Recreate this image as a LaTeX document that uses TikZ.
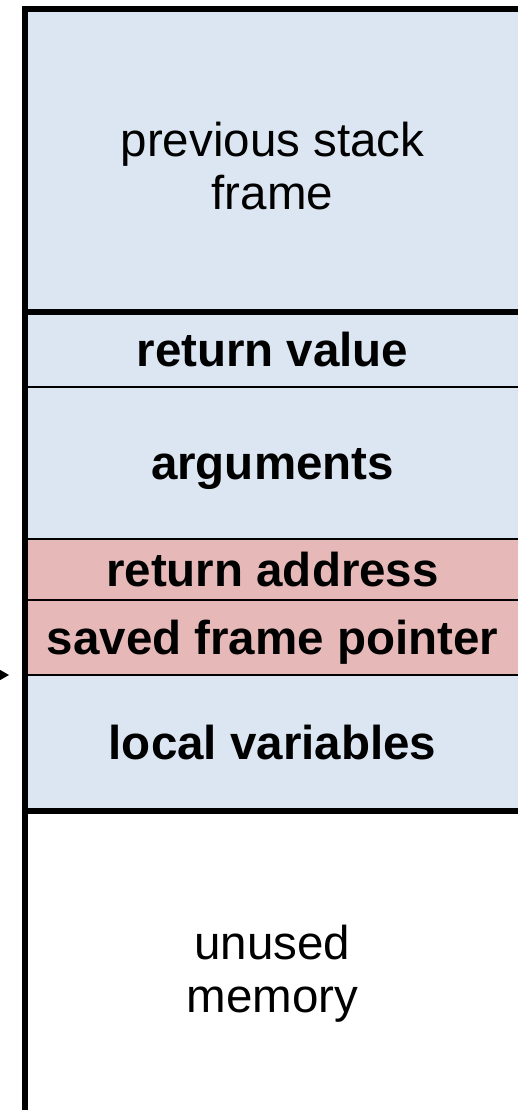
\documentclass[tikz,border=0pt]{standalone}
\usepackage{fontspec}
\setmainfont{Liberation Sans}
\usetikzlibrary{positioning,arrows.meta}
\definecolor{stackblue}{HTML}{DCE6F2}
\definecolor{stackred}{HTML}{E6B9B8}
\tikzset{
  slot/.style={rectangle, inner sep=0pt, outer sep=0pt, minimum width=495pt, align=center,
    font=\fontsize{47.5}{53}\selectfont},
  bold slot/.style={slot, text height=36pt, text depth=3pt,
    font=\fontsize{47.5}{53}\selectfont\bfseries},
  wall/.style={line width=6pt},
  sep/.style={line width=1.5pt},
  ptr/.style={line width=1.5pt, -{Triangle[length=10pt,width=11pt]}}
}
\begin{document}
\begin{tikzpicture}[x=1pt,y=-1pt]
\useasboundingbox (0,0) rectangle (518,1110);

% stack slots
\node[slot, fill=stackblue, minimum height=303pt, anchor=north west] (prev) at (25,9) {\rule{0pt}{45pt}previous stack\\frame};
\node[bold slot, fill=stackblue, minimum height=75pt, below=0pt of prev] (retval) {return value};
\node[bold slot, fill=stackblue, minimum height=152pt, below=0pt of retval] (args) {arguments};
\node[bold slot, fill=stackred, minimum height=61pt, below=0pt of args] (retaddr) {return address};
\node[bold slot, fill=stackred, minimum height=75pt, below=0pt of retaddr] (sfp) {saved frame pointer};
\node[bold slot, fill=stackblue, minimum height=136pt, below=0pt of sfp] (locals) {local variables};
\node[slot, minimum height=326pt, below=0pt of locals] (unused) {unused\\memory};

% borders
\draw[wall, line join=miter] (unused.south west) -- (prev.north west) -- (prev.north east);
\draw[wall] (prev.south west) -- (prev.south east);
\draw[wall] (locals.south west) -- (locals.south east);
\draw[sep] (retval.south west) -- (retval.south east);
\draw[sep] (args.south west) -- (args.south east);
\draw[sep] (retaddr.south west) -- (retaddr.south east);
\draw[sep] (sfp.south west) -- (sfp.south east);

% frame pointer
\coordinate (fpfrom) at (-40,675);
\draw[ptr, shorten >=16pt] (fpfrom) -- (sfp.south west);

\end{tikzpicture}
\end{document}
